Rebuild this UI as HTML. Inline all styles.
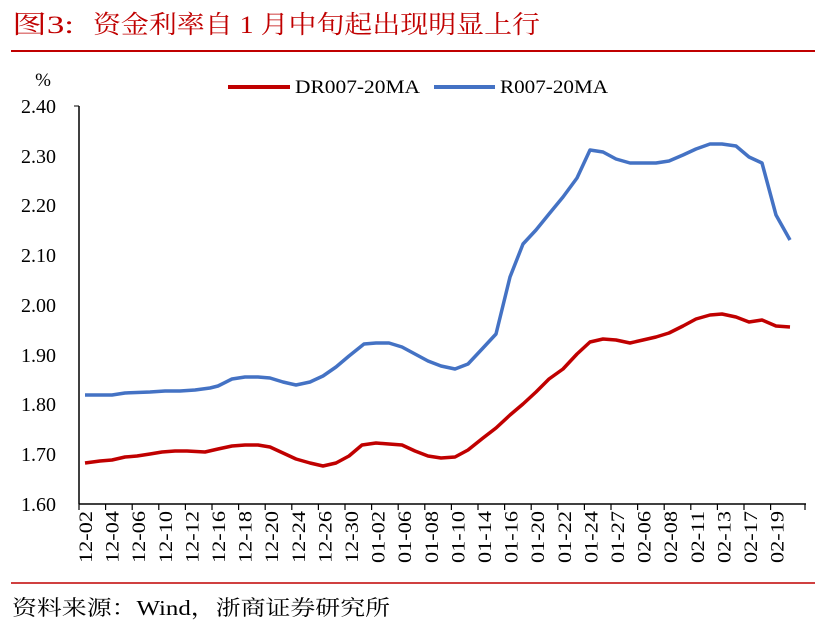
<!DOCTYPE html>
<html><head><meta charset="utf-8"><style>
body{margin:0;background:#fff;}
svg text{font-family:"Liberation Serif","Noto Serif CJK SC",serif;}
</style></head><body>
<svg width="823" height="636" xmlns="http://www.w3.org/2000/svg">
<text x="12" y="33" font-size="25" fill="#c00000" textLength="62" lengthAdjust="spacingAndGlyphs">图3:</text>
<text x="93" y="33" font-size="25" fill="#c00000" textLength="447" lengthAdjust="spacingAndGlyphs">资金利率自 1 月中旬起出现明显上行</text>
<line x1="11" y1="51" x2="815" y2="51" stroke="#c00000" stroke-width="2"/>
<text x="43" y="86" font-size="19" text-anchor="middle">%</text>
<g font-size="20" text-anchor="end">
<text x="56" y="113">2.40</text><text x="56" y="163">2.30</text><text x="56" y="212">2.20</text><text x="56" y="262">2.10</text><text x="56" y="312">2.00</text><text x="56" y="362">1.90</text><text x="56" y="411">1.80</text><text x="56" y="461">1.70</text><text x="56" y="511">1.60</text>
</g>
<line x1="79" y1="106" x2="79" y2="504" stroke="#000" stroke-width="1.5"/>
<line x1="74" y1="106" x2="79" y2="106" stroke="#000"/>
<line x1="79" y1="504" x2="806" y2="504" stroke="#000" stroke-width="1.5"/>
<path stroke="#000" stroke-width="1.2" d="M79,504v6M105.6,504v6M132.2,504v6M158.8,504v6M185.4,504v6M212,504v6M238.6,504v6M265.2,504v6M291.8,504v6M318.4,504v6M345,504v6M371.6,504v6M398.2,504v6M424.8,504v6M451.4,504v6M478,504v6M504.6,504v6M531.2,504v6M557.8,504v6M584.4,504v6M611,504v6M637.6,504v6M664.2,504v6M690.8,504v6M717.4,504v6M744,504v6M770.6,504v6M805,504v6"/>
<line x1="228" y1="87" x2="290" y2="87" stroke="#c00000" stroke-width="4"/>
<text x="295" y="93" font-size="19" textLength="125" lengthAdjust="spacingAndGlyphs">DR007-20MA</text>
<line x1="434" y1="87" x2="495" y2="87" stroke="#4472c4" stroke-width="4"/>
<text x="500" y="93" font-size="19" textLength="108" lengthAdjust="spacingAndGlyphs">R007-20MA</text>
<polyline fill="none" stroke="#c00000" stroke-width="3.5" stroke-linejoin="round" points="85,463 100,461 112,460 125,457 137,456 150,454 162,452 175,451 187,451 205,452 218,449 232,446 245,445 258,445 270,447 283,453 296,459 310,463 323,466 336,463 349,456 362,445 376,443 389,444 402,445 415,451 428,456 441,458 455,457 468,450 483,438 496,428 510,415 523,404 536,392 549,379 563,369 577,354 590,342 603,339 616,340 630,343 643,340 656,337 669,333 683,326 696,319 710,315 722,314 736,317 749,322 762,320 776,326 790,327"/>
<polyline fill="none" stroke="#4472c4" stroke-width="3.5" stroke-linejoin="round" points="85,395 112,395 125,393 150,392 165,391 180,391 195,390 210,388 218,386 232,379 245,377 258,377 270,378 283,382 296,385 310,382 323,376 336,367 349,356 364,344 376,343 389,343 402,347 415,354 428,361 441,366 455,369 468,364 483,348 496,334 510,277 523,244 536,230 549,214 563,197 577,178 590,150 603,152 616,159 630,163 643,163 656,163 669,161 683,155 696,149 710,144 722,144 736,146 749,157 762,163 776,215 790,240"/>
<g font-size="19" text-anchor="end">
<text transform="translate(92,511) rotate(-90)" textLength="52" lengthAdjust="spacingAndGlyphs">12-02</text>
<text transform="translate(118.6,511) rotate(-90)" textLength="52" lengthAdjust="spacingAndGlyphs">12-04</text>
<text transform="translate(145.2,511) rotate(-90)" textLength="52" lengthAdjust="spacingAndGlyphs">12-06</text>
<text transform="translate(171.8,511) rotate(-90)" textLength="52" lengthAdjust="spacingAndGlyphs">12-10</text>
<text transform="translate(198.4,511) rotate(-90)" textLength="52" lengthAdjust="spacingAndGlyphs">12-12</text>
<text transform="translate(225,511) rotate(-90)" textLength="52" lengthAdjust="spacingAndGlyphs">12-16</text>
<text transform="translate(251.6,511) rotate(-90)" textLength="52" lengthAdjust="spacingAndGlyphs">12-18</text>
<text transform="translate(278.2,511) rotate(-90)" textLength="52" lengthAdjust="spacingAndGlyphs">12-20</text>
<text transform="translate(304.8,511) rotate(-90)" textLength="52" lengthAdjust="spacingAndGlyphs">12-24</text>
<text transform="translate(331.4,511) rotate(-90)" textLength="52" lengthAdjust="spacingAndGlyphs">12-26</text>
<text transform="translate(358,511) rotate(-90)" textLength="52" lengthAdjust="spacingAndGlyphs">12-30</text>
<text transform="translate(384.6,511) rotate(-90)" textLength="52" lengthAdjust="spacingAndGlyphs">01-02</text>
<text transform="translate(411.2,511) rotate(-90)" textLength="52" lengthAdjust="spacingAndGlyphs">01-06</text>
<text transform="translate(437.8,511) rotate(-90)" textLength="52" lengthAdjust="spacingAndGlyphs">01-08</text>
<text transform="translate(464.4,511) rotate(-90)" textLength="52" lengthAdjust="spacingAndGlyphs">01-10</text>
<text transform="translate(491,511) rotate(-90)" textLength="52" lengthAdjust="spacingAndGlyphs">01-14</text>
<text transform="translate(517.6,511) rotate(-90)" textLength="52" lengthAdjust="spacingAndGlyphs">01-16</text>
<text transform="translate(544.2,511) rotate(-90)" textLength="52" lengthAdjust="spacingAndGlyphs">01-20</text>
<text transform="translate(570.8,511) rotate(-90)" textLength="52" lengthAdjust="spacingAndGlyphs">01-22</text>
<text transform="translate(597.4,511) rotate(-90)" textLength="52" lengthAdjust="spacingAndGlyphs">01-24</text>
<text transform="translate(624,511) rotate(-90)" textLength="52" lengthAdjust="spacingAndGlyphs">01-27</text>
<text transform="translate(650.6,511) rotate(-90)" textLength="52" lengthAdjust="spacingAndGlyphs">02-06</text>
<text transform="translate(677.2,511) rotate(-90)" textLength="52" lengthAdjust="spacingAndGlyphs">02-08</text>
<text transform="translate(703.8,511) rotate(-90)" textLength="52" lengthAdjust="spacingAndGlyphs">02-11</text>
<text transform="translate(730.4,511) rotate(-90)" textLength="52" lengthAdjust="spacingAndGlyphs">02-13</text>
<text transform="translate(757,511) rotate(-90)" textLength="52" lengthAdjust="spacingAndGlyphs">02-17</text>
<text transform="translate(783.6,511) rotate(-90)" textLength="52" lengthAdjust="spacingAndGlyphs">02-19</text>
</g>
<line x1="11" y1="583" x2="815" y2="583" stroke="#c00000" stroke-width="1.5"/>
<text x="12" y="615" font-size="21" textLength="378" lengthAdjust="spacingAndGlyphs">资料来源：Wind，浙商证券研究所</text>
</svg>
</body></html>
